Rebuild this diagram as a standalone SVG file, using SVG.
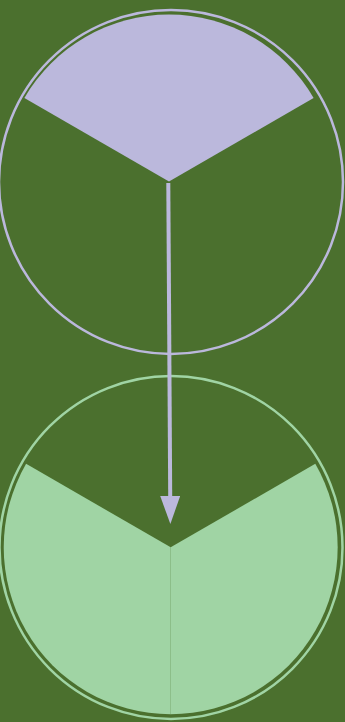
<svg xmlns="http://www.w3.org/2000/svg" width="345" height="722" viewBox="0 0 345 722">
  <style>
    .ringA { fill: none; stroke: #bbb8dc; stroke-width: 2.5; }
    .fillA { fill: #bbb8dc; }
    .ringB { fill: none; stroke: #a0d4a4; stroke-width: 2.5; }
    .fillB { fill: #a0d4a4; }
    .conn { fill: none; stroke: #bbb8dc; stroke-width: 4; }
  </style>
  <defs>
    <marker id="arrow" markerUnits="userSpaceOnUse" viewBox="0 0 28 20" markerWidth="28" markerHeight="20" refX="0" refY="10" orient="auto">
      <path d="M0,0 L28,10 L0,20 Z" fill="#bbb8dc"/>
    </marker>
  </defs>
  <rect x="0" y="0" width="345" height="722" fill="#4b702e"/>
  <g id="node-top">
    <circle class="ringA" cx="171" cy="182" r="172"/>
    <path class="fillA" d="M169,181.5 L24.4,98 A167,167 0 0 1 313.6,98 Z"/>
  </g>
  <g id="node-bottom">
    <circle class="ringB" cx="171" cy="547.5" r="171.5"/>
    <path class="fillB" d="M170.7,547.3 L26.1,463.8 A167,167 0 0 0 170.7,714.3 Z"/>
    <path class="fillB" d="M170.7,547.3 L170.7,714.3 A167,167 0 0 0 315.3,463.8 Z"/>
  </g>
  <g id="connectors">
    <path class="conn" d="M168.3,183 L170.2,496" marker-end="url(#arrow)"/>
  </g>
</svg>
